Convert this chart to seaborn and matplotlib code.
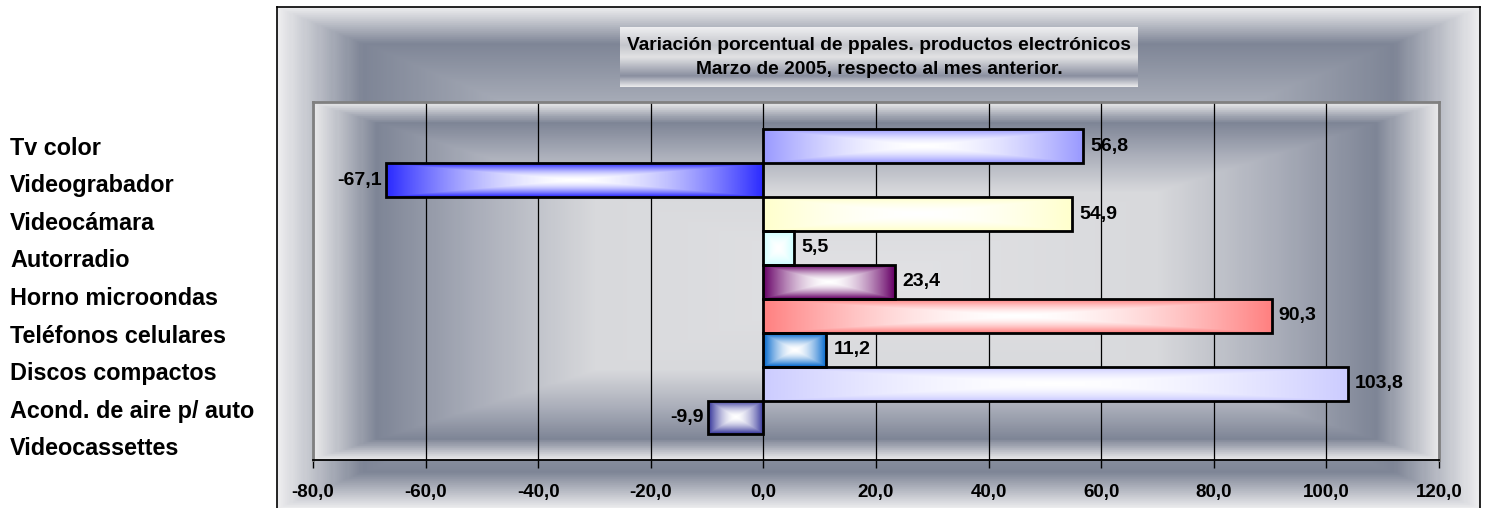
import numpy as np
import pandas as pd
import seaborn as sns
import matplotlib.pyplot as plt
from matplotlib.colors import LinearSegmentedColormap

categories = ["Tv color", "Videograbador", "Videocámara", "Autorradio",
              "Horno microondas", "Teléfonos celulares", "Discos compactos",
              "Acond. de aire p/ auto", "Videocassettes"]
values = [56.8, -67.1, 54.9, 5.5, 23.4, 90.3, 11.2, 103.8, -9.9]
bar_colors = ["#9999ff", "#2a2aff", "#ffffcc", "#ccffff", "#660066",
              "#ff8080", "#0066cc", "#ccccff", "#333399"]
x_ticks = [-80, -60, -40, -20, 0, 20, 40, 60, 80, 100, 120]
title_lines = ["Variación porcentual de ppales. productos electrónicos",
               "Marzo de 2005, respecto al mes anterior."]

W, H = 1486, 508


def fig_rect(x0, y0, x1, y1):
    # pixel box (top-left origin) -> figure fraction
    return [x0 / W, 1 - y1 / H, (x1 - x0) / W, (y1 - y0) / H]


def rect_gradient(nrow, ncol, stops, colors, power=1.0):
    """Excel-like 'from center' rectangular gradient."""
    y = np.linspace(-1, 1, nrow)[:, None]
    x = np.linspace(-1, 1, ncol)[None, :]
    d = np.maximum(np.abs(x), np.abs(y)) ** power
    cmap = LinearSegmentedColormap.from_list("g", list(zip(stops, colors)))
    return cmap(d)


sns.set_style("white")
plt.rcParams["font.family"] = ["Liberation Sans", "DejaVu Sans"]
plt.rcParams["font.weight"] = "bold"
plt.rcParams["text.color"] = "black"
plt.rcParams["xtick.color"] = "black"
plt.rcParams["xtick.labelcolor"] = "black"

df = pd.DataFrame({"producto": categories, "variacion": values})

fig = plt.figure(figsize=(W / 100, H / 100), dpi=100)
fig.patch.set_facecolor("white")

# --- chart area background ---
bg = fig.add_axes(fig_rect(277, 7, 1480, 509))
bg.imshow(rect_gradient(250, 600, [0, 0.55, 0.86, 1.0],
                        ["#dcdde0", "#b4b8c2", "#7e8596", "#ececee"]),
          aspect="auto", extent=[0, 1, 0, 1])
bg.set_xticks([])
bg.set_yticks([])
for s in bg.spines.values():
    s.set_color("black")
    s.set_linewidth(1.2)
bg.spines["bottom"].set_visible(False)

# --- title box ---
tb = fig.add_axes(fig_rect(620, 27, 1138, 87))
prof = np.linspace(0, 1, 60)[:, None] * np.ones((1, 10))
tcmap = LinearSegmentedColormap.from_list(
    "t", [(0, "#eeeef0"), (0.3, "#c4c6cc"), (0.5, "#e2e2e4"),
          (0.82, "#8a8fa0"), (1.0, "#e8e8ea")])
tb.imshow(prof, cmap=tcmap, aspect="auto", extent=[0, 1, 0, 1], origin="upper")
tb.set_axis_off()
tb.text(0.5, 0.70, title_lines[0], ha="center", va="center", fontsize=13.8,
        fontweight="bold", transform=tb.transAxes)
tb.text(0.5, 0.29, title_lines[1], ha="center", va="center", fontsize=13.8,
        fontweight="bold", transform=tb.transAxes)

# --- plot area ---
ax = fig.add_axes(fig_rect(313, 102, 1439, 460))
ylim = (9.255, -1.305)
ax.imshow(rect_gradient(180, 560, [0, 0.5, 0.72, 0.89, 1.0],
                        ["#e2e2e5", "#d8d9dc", "#a8acb8", "#7e8596", "#e6e6e8"]),
          aspect="auto", extent=[x_ticks[0], x_ticks[-1], ylim[0], ylim[1]],
          zorder=0)

sns.barplot(data=df, y="producto", x="variacion", hue="producto",
            palette=bar_colors, dodge=False, legend=False, width=1.0,
            edgecolor="black", linewidth=2, ax=ax, zorder=3)

for patch in ax.patches:
    x0 = patch.get_x()
    w = patch.get_width()
    yc = patch.get_y() + patch.get_height() / 2
    i = int(round(yc))
    ncol = max(10, int(abs(w) * 5.63))
    img = rect_gradient(34, ncol, [0, 1], ["#ffffff", bar_colors[i]], power=1.7)
    im = ax.imshow(img, aspect="auto", extent=[min(x0, x0 + w), max(x0, x0 + w),
                                               yc + 0.5, yc - 0.5], zorder=2.5)
    im.set_clip_path(patch)
    patch.set_facecolor("none")

for i, v in enumerate(values):
    ax.annotate(f"{v:.1f}".replace(".", ","), xy=(v, i),
                xytext=(7 if v > 0 else -4, 0), textcoords="offset pixels",
                ha="left" if v > 0 else "right", va="center",
                fontsize=14, fontweight="bold", zorder=5)

ax.set_xlim(x_ticks[0], x_ticks[-1])
ax.set_ylim(*ylim)
ax.set_xticks(x_ticks)
ax.set_xticklabels([f"{t:.1f}".replace(".", ",") for t in x_ticks],
                   fontsize=13.5, fontweight="bold")
ax.set_yticks([])
ax.set_xlabel("")
ax.set_ylabel("")
ax.xaxis.grid(True, color="black", linewidth=0.9, zorder=1)
ax.tick_params(axis="x", direction="out", length=6, width=1, color="black",
               pad=11, bottom=True)
for side in ["left", "top", "right"]:
    ax.spines[side].set_color("#808080")
    ax.spines[side].set_linewidth(2)
ax.spines["bottom"].set_color("black")
ax.spines["bottom"].set_linewidth(1.3)

# --- category labels (outside the chart frame, own spacing) ---
lab = fig.add_axes(fig_rect(0, 102, 277, 460))
lab.set_xlim(0, 277)
lab.set_ylim(8.12, -1.40)
lab.set_axis_off()
for i, name in enumerate(categories):
    lab.text(10, i, name, ha="left", va="baseline", fontsize=16.8,
             fontweight="bold")

fig.savefig("out.png", dpi=100)
